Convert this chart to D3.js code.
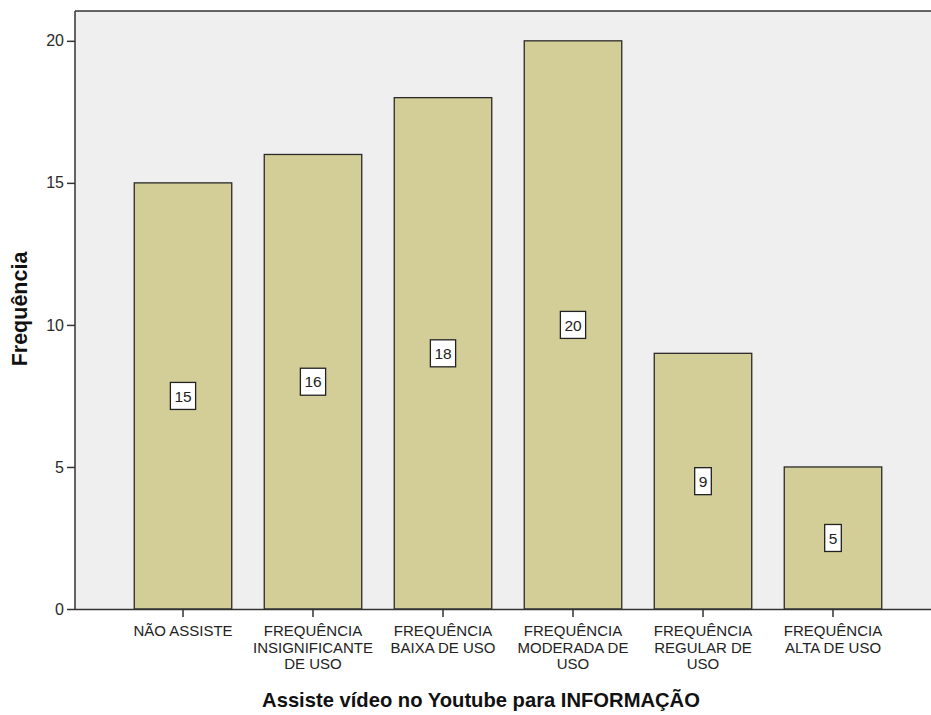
<!DOCTYPE html>
<html><head><meta charset="utf-8">
<script src="https://cdn.jsdelivr.net/npm/d3@7"></script>
<style>
html,body{margin:0;padding:0;background:#fff;}
svg{display:block;font-family:Arial,"Liberation Sans",sans-serif;}
</style></head>
<body><svg id="c" width="931" height="715"></svg>
<script>
const categories = [
  "NÃO ASSISTE",
  "FREQUÊNCIA\nINSIGNIFICANTE\nDE USO",
  "FREQUÊNCIA\nBAIXA DE USO",
  "FREQUÊNCIA\nMODERADA DE\nUSO",
  "FREQUÊNCIA\nREGULAR DE\nUSO",
  "FREQUÊNCIA\nALTA DE USO"
];
const values = [15, 16, 18, 20, 9, 5];
const yTicks = [0, 5, 10, 15, 20];
const xTitle = "Assiste vídeo no Youtube para INFORMAÇÃO";
const yTitle = "Frequência";

const svg = d3.select("#c");
const L = 75, R = 931, T = 11, B = 609;

const x = d3.scaleBand().domain(categories).range([118, 898])
  .paddingInner(0.25).paddingOuter(0.125);
const y = d3.scaleLinear().domain([0, 21.05]).range([B, T]);

svg.append("rect").attr("x", L).attr("y", T).attr("width", R - L).attr("height", B - T)
  .attr("fill", "#efefef");

// bars
svg.append("g").selectAll("rect").data(values).join("rect")
  .attr("x", (d, i) => x(categories[i]))
  .attr("y", d => y(d))
  .attr("width", x.bandwidth())
  .attr("height", d => y(0) - y(d))
  .attr("fill", "#d3ce97")
  .attr("stroke", "#2a2a2a").attr("stroke-width", 1.3);

// frame lines
svg.append("line").attr("x1", L).attr("x2", R).attr("y1", T).attr("y2", T)
  .attr("stroke", "#333").attr("stroke-width", 1.5);
svg.append("line").attr("x1", L).attr("x2", L).attr("y1", T).attr("y2", B)
  .attr("stroke", "#333").attr("stroke-width", 1.5);

// y axis
const yAxis = d3.axisLeft(y).tickValues(yTicks).tickSize(8).tickPadding(3).tickFormat(d3.format("d"));
const gy = svg.append("g").attr("transform", `translate(${L},0)`).call(yAxis);
gy.select(".domain").remove();
gy.selectAll(".tick line").attr("stroke", "#333").attr("stroke-width", 1.5);
gy.selectAll(".tick text").attr("font-size", 16).attr("fill", "#2a2a2a")
  .attr("font-family", "Arial, 'Liberation Sans', sans-serif");

// x axis
const xAxis = d3.axisBottom(x).tickSize(8).tickFormat("");
const gx = svg.append("g").attr("transform", `translate(0,${B})`).call(xAxis);
gx.select(".domain").attr("d", `M${L},0.5H${R}`).attr("stroke", "#333").attr("stroke-width", 1.5);
gx.selectAll(".tick line").attr("stroke", "#333").attr("stroke-width", 1.5);
gx.selectAll(".tick").each(function(d) {
  const lines = d.split("\n");
  const t = d3.select(this).append("text")
    .attr("text-anchor", "middle").attr("fill", "#222")
    .attr("font-size", 15).attr("font-family", "Arial, 'Liberation Sans', sans-serif");
  lines.forEach((ln, k) => {
    t.append("tspan").attr("x", 0).attr("y", 27 + k * 16.5).text(ln);
  });
});

// value labels
const lab = svg.append("g").selectAll("g").data(values).join("g")
  .attr("transform", (d, i) => `translate(${x(categories[i]) + x.bandwidth() / 2},${y(d / 2)})`);
lab.each(function(d) {
  const g = d3.select(this);
  const txt = g.append("text").attr("text-anchor", "middle").attr("dy", "0.36em")
    .attr("font-size", 15.5).attr("fill", "#222").text(d);
  const w = txt.node().getComputedTextLength() + 8;
  g.insert("rect", "text").attr("x", -w / 2).attr("y", -13.5).attr("width", w).attr("height", 27)
    .attr("fill", "#fff").attr("stroke", "#222").attr("stroke-width", 1.3);
});

// titles
svg.append("text").attr("x", 481).attr("y", 707).attr("text-anchor", "middle")
  .attr("font-size", 20.2).attr("font-weight", "bold").attr("fill", "#111").text(xTitle);
svg.append("text").attr("transform", "translate(27,309) rotate(-90)").attr("text-anchor", "middle")
  .attr("font-size", 21.5).attr("font-weight", "bold").attr("fill", "#111").text(yTitle);
</script></body></html>
